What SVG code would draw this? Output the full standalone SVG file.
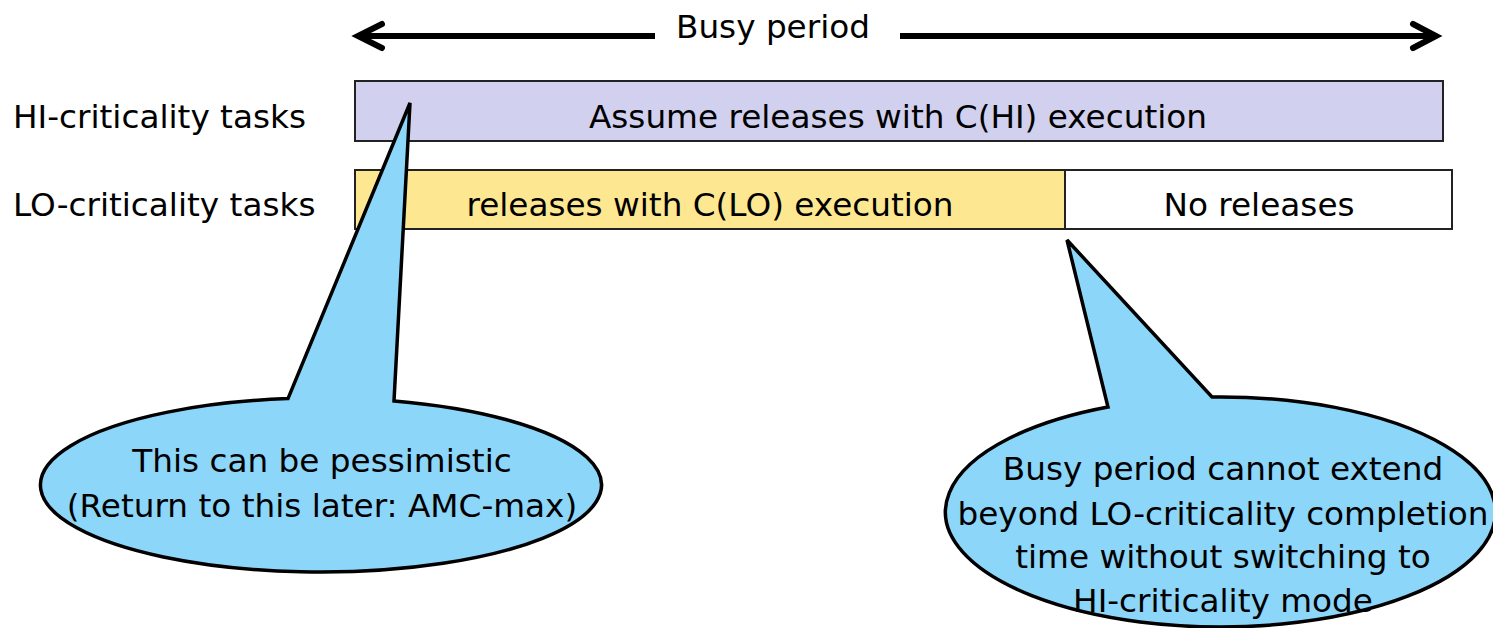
<svg xmlns="http://www.w3.org/2000/svg" width="1493" height="628" viewBox="0 0 1493 628">
<style>
text{font-family:"DejaVu Sans","Liberation Sans",sans-serif;font-size:32.7px;fill:#000}
.c{text-anchor:middle}
.bar{stroke:#222;stroke-width:2}
.callout{fill:#8cd6fa;stroke:#000;stroke-width:3.5;stroke-linejoin:miter}
.arr{stroke:#000;stroke-width:6;fill:none;stroke-linecap:butt}
.head{stroke:#000;stroke-width:6;fill:none;stroke-linecap:round;stroke-linejoin:miter}
</style>
<g id="connectors">
<line class="arr" x1="360" y1="36" x2="655" y2="36"/>
<polyline class="head" points="382,24 358,36 382,48"/>
<line class="arr" x1="900" y1="36" x2="1432" y2="36"/>
<polyline class="head" points="1413,24 1436,36 1413,48"/>
</g>
<g id="busy-label"><text class="c" x="773" y="38">Busy period</text></g>
<g id="hi-label"><text x="13" y="128">HI-criticality tasks</text></g>
<g id="lo-label"><text x="13" y="216">LO-criticality tasks</text></g>
<g id="hi-bar">
<rect class="bar" x="355" y="81" width="1088" height="60" fill="#d1d1ef"/>
<text class="c" x="898" y="128">Assume releases with C(HI) execution</text>
</g>
<g id="lo-bar">
<rect class="bar" x="355" y="170" width="710" height="59" fill="#fde891"/>
<text class="c" x="710" y="216">releases with C(LO) execution</text>
</g>
<g id="no-releases">
<rect class="bar" x="1065" y="170" width="387" height="59" fill="#fff"/>
<text class="c" x="1259" y="216">No releases</text>
</g>
<g id="callout-pessimistic">
<path class="callout" d="M394,401 A280.5 87 0 1 1 288,398.6 L410,103 Z"/>
<text class="c" x="322" y="472">This can be pessimistic</text>
<text class="c" x="322" y="517">(Return to this later: AMC-max)</text>
</g>
<g id="callout-busy">
<path class="callout" d="M1212,397 A275 115 0 1 1 1108,407 L1067,240 Z"/>
<text class="c" x="1223" y="480">Busy period cannot extend</text>
<text class="c" x="1223" y="525">beyond LO-criticality completion</text>
<text class="c" x="1223" y="568">time without switching to</text>
<text class="c" x="1223" y="612">HI-criticality mode</text>
</g>
</svg>
